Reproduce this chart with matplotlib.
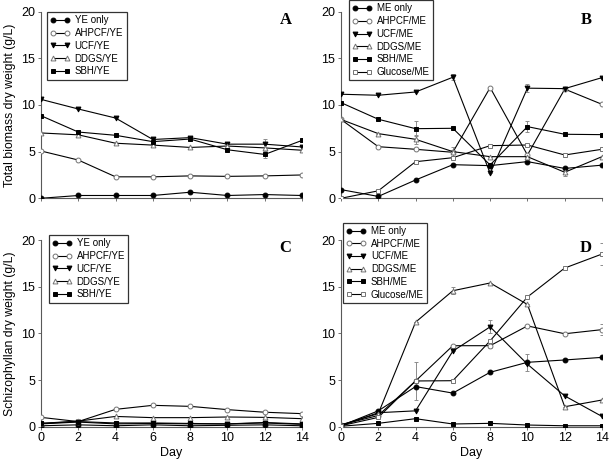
import matplotlib
matplotlib.use("Agg")
import matplotlib.pyplot as plt
import numpy as np

plt.rcParams["font.family"] = ["Liberation Sans", "DejaVu Sans"]

days = [0, 2, 4, 6, 8, 10, 12, 14]

# Panel A: total biomass, YE series
a_ye = [0.0, 0.3, 0.3, 0.3, 0.65, 0.3, 0.4, 0.3]
a_ahpcf = [5.07, 4.1, 2.3, 2.3, 2.4, 2.35, 2.4, 2.5]
a_ucf = [10.6, 9.57, 8.6, 6.3, 6.5, 5.8, 5.8, 5.5]
a_ddgs = [7.0, 6.8, 5.9, 5.7, 5.45, 5.6, 5.4, 5.15]
a_sbh = [8.85, 7.1, 6.75, 6.07, 6.35, 5.2, 4.7, 6.2]
a_ucf_err = [0, 0, 0, 0, 0, 0, 0.6, 0]
a_sbh_err = [0, 0, 0, 0, 0, 0, 0.4, 0]

# Panel B: total biomass, ME series
b_me = [0.93, 0.2, 1.96, 3.6, 3.5, 3.93, 3.2, 3.55]
b_ahpcf = [8.45, 5.53, 5.25, 4.93, 11.86, 4.64, 11.7, 10.07]
b_ucf = [11.15, 11.04, 11.39, 12.97, 2.68, 11.8, 11.75, 12.93]
b_ddgs = [8.45, 6.93, 6.32, 5.0, 4.46, 4.46, 2.79, 4.46]
b_sbh = [10.25, 8.47, 7.46, 7.5, 3.57, 7.68, 6.86, 6.82]
b_glu = [0.0, 0.8, 3.92, 4.35, 5.64, 5.71, 4.64, 5.25]
b_ucf_err = [0, 0, 0, 0.3, 0, 0.4, 0, 0]
b_sbh_err = [0, 0, 0.8, 0, 0, 0.6, 0, 0]
b_ddgs_err = [0, 0, 0.5, 0.5, 0, 0, 0.4, 0]

# Panel C: schizophyllan, YE series
c_ye = [0.1, 0.2, 0.1, 0.2, 0.1, 0.15, 0.2, 0.1]
c_ahpcf = [1.0, 0.55, 1.86, 2.29, 2.18, 1.83, 1.55, 1.4]
c_ucf = [0.3, 0.5, 0.3, 0.35, 0.3, 0.3, 0.4, 0.25]
c_ddgs = [0.36, 0.6, 1.1, 0.97, 0.97, 1.04, 1.0, 0.86]
c_sbh = [0.35, 0.55, 0.4, 0.4, 0.35, 0.3, 0.45, 0.3]

# Panel D: schizophyllan, ME series
d_me = [0.1, 1.7, 4.3, 3.6, 5.83, 6.9, 7.15, 7.43]
d_ahpcf = [0.2, 1.2, 4.9, 8.68, 8.68, 10.8, 9.96, 10.4]
d_ucf = [0.1, 1.5, 1.7, 8.1, 10.7, 6.7, 3.3, 1.1]
d_ddgs = [0.2, 1.4, 11.2, 14.57, 15.4, 13.1, 2.14, 2.86]
d_sbh = [0.05, 0.36, 0.86, 0.29, 0.36, 0.18, 0.1, 0.1]
d_glu = [0.1, 1.0, 4.9, 4.93, 9.2, 13.9, 17.0, 18.5]
d_glu_err = [0, 0, 2.0, 0, 0, 0, 0, 1.2]
d_ddgs_err = [0, 0, 0, 0.4, 0, 0, 0, 0]
d_ucf_err = [0, 0, 0, 0, 0.7, 0, 0, 0]
d_me_err = [0, 0, 0, 0, 0, 0.9, 0, 0]
d_ahpcf_err = [0, 0, 0, 0, 0.3, 0, 0, 0.6]

ye_labels = ["YE only", "AHPCF/YE", "UCF/YE", "DDGS/YE", "SBH/YE"]
me_labels = ["ME only", "AHPCF/ME", "UCF/ME", "DDGS/ME", "SBH/ME", "Glucose/ME"]

styles = [
    dict(marker="o", mfc="black", mec="black"),
    dict(marker="o", mfc="white", mec="0.45"),
    dict(marker="v", mfc="black", mec="black"),
    dict(marker="^", mfc="white", mec="0.45"),
    dict(marker="s", mfc="black", mec="black"),
    dict(marker="s", mfc="white", mec="0.45"),
]


def draw_panel(ax, series, labels, errs, letter, legend_anchor):
    for i, (y, lab) in enumerate(zip(series, labels)):
        ax.plot(days, y, color="black", lw=0.8, ms=3.5, mew=0.7,
                label=lab, zorder=3, **styles[i])
        e = errs.get(i)
        if e is not None:
            ax.errorbar(days, y, yerr=e, fmt="none", ecolor="0.55",
                        elinewidth=0.7, capsize=1.5, capthick=0.7, zorder=2)
    ax.set_xlim(0, 14)
    ax.set_ylim(0, 20)
    ax.set_xticks(days)
    ax.set_yticks([0, 5, 10, 15, 20])
    for s in ["top", "right"]:
        ax.spines[s].set_visible(False)
    for s in ["left", "bottom"]:
        ax.spines[s].set_color("0.35")
        ax.spines[s].set_linewidth(0.8)
    ax.tick_params(direction="out", length=2.5, width=0.6, color="0.35",
                   labelsize=9, pad=1.5)
    ax.text(0.96, 0.955, letter, transform=ax.transAxes, ha="right", va="center",
            fontsize=12, fontweight="bold", family="Liberation Serif")
    leg = ax.legend(loc="upper left", bbox_to_anchor=legend_anchor,
                    fontsize=7, frameon=True, fancybox=False, numpoints=2,
                    handlelength=2.0, handletextpad=0.5, labelspacing=0.28,
                    borderpad=0.35, borderaxespad=0)
    leg.get_frame().set_edgecolor("black")
    leg.get_frame().set_linewidth(0.9)
    leg.set_zorder(5)


fig = plt.figure(figsize=(6.09, 4.62), dpi=100)
w, h = 0.4286, 0.404
ax_a = fig.add_axes([0.0673, 0.5708, w, h])
ax_b = fig.add_axes([0.5599, 0.5708, w, h])
ax_c = fig.add_axes([0.0673, 0.0764, w, h])
ax_d = fig.add_axes([0.5599, 0.0764, w, h])

draw_panel(ax_a, [a_ye, a_ahpcf, a_ucf, a_ddgs, a_sbh], ye_labels,
           {2: a_ucf_err, 4: a_sbh_err}, "A", (0.023, 0.998))
draw_panel(ax_b, [b_me, b_ahpcf, b_ucf, b_ddgs, b_sbh, b_glu], me_labels,
           {2: b_ucf_err, 3: b_ddgs_err, 4: b_sbh_err}, "B", (0.03, 1.062))
draw_panel(ax_c, [c_ye, c_ahpcf, c_ucf, c_ddgs, c_sbh], ye_labels,
           {}, "C", (0.03, 1.027))
draw_panel(ax_d, [d_me, d_ahpcf, d_ucf, d_ddgs, d_sbh, d_glu], me_labels,
           {0: d_me_err, 1: d_ahpcf_err, 2: d_ucf_err, 3: d_ddgs_err, 5: d_glu_err},
           "D", (0.008, 1.094))

ax_a.tick_params(labelbottom=False)
ax_b.tick_params(labelbottom=False)

ax_a.set_ylabel("Total biomass dry weight (g/L)", fontsize=8.8, labelpad=4)
ax_c.set_ylabel("Schizophyllan dry weight (g/L)", fontsize=8.8, labelpad=4)
ax_c.set_xlabel("Day", fontsize=9, labelpad=2)
ax_d.set_xlabel("Day", fontsize=9, labelpad=2)

fig.savefig("out.png", dpi=100)
